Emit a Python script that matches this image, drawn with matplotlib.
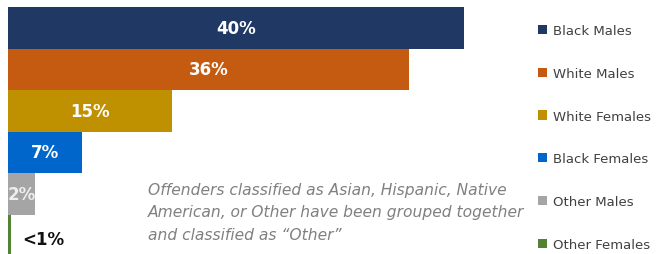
import matplotlib.pyplot as plt
from matplotlib.patches import Patch

groups = ["Black Males", "White Males", "White Females", "Black Females", "Other Males", "Other Females"]
shares = [40.0, 35.2, 14.4, 6.5, 2.4, 0.3]
labels = ["40%", "36%", "15%", "7%", "2%", "<1%"]
colors = ["#203864", "#C55A11", "#BF9000", "#0066CC", "#A5A5A5", "#548235"]
label_colors = ["white", "white", "white", "white", "#eeeeee", "#111111"]

note = ("Offenders classified as Asian, Hispanic, Native\n"
        "American, or Other have been grouped together\n"
        "and classified as \u201cOther\u201d")

W, H = 660, 255
fig = plt.figure(figsize=(W / 100, H / 100), dpi=100)
ax = fig.add_axes([7.6 / W, 0, 522.4 / W, 1])

ypos = list(range(len(groups)))
ax.barh(ypos, shares, height=1.0, color=colors)
ax.set_xlim(0, 40 * 522.4 / 456.4)
bar_px = 41.5
top = -0.5 - 8 / bar_px
ax.set_ylim(top + H / bar_px, top)
ax.axis("off")

for y, v, lab, c in zip(ypos, shares, labels, label_colors):
    if v > 1:
        ax.text(v / 2, y, lab, ha="center", va="center", color=c,
                fontsize=12, fontweight="bold")
    else:
        ax.text(v + 1.0, y + 0.1, lab, ha="left", va="center", color=c,
                fontsize=12, fontweight="bold")

fig.text(148 / W, 1 - 213 / H, note, ha="left", va="center", color="#808080",
         fontsize=11.2, style="italic", linespacing=1.62)

handles = [Patch(facecolor=c, edgecolor="none") for c in colors]
fig.legend(handles, groups, loc="upper left", bbox_to_anchor=(538 / W, 1 - 25 / H),
           frameon=False, fontsize=9.5, handlelength=0.7, handleheight=0.7,
           handletextpad=0.45, labelspacing=2.26, labelcolor="#404040",
           borderaxespad=0, borderpad=0)

fig.savefig("out.png", dpi=100)
